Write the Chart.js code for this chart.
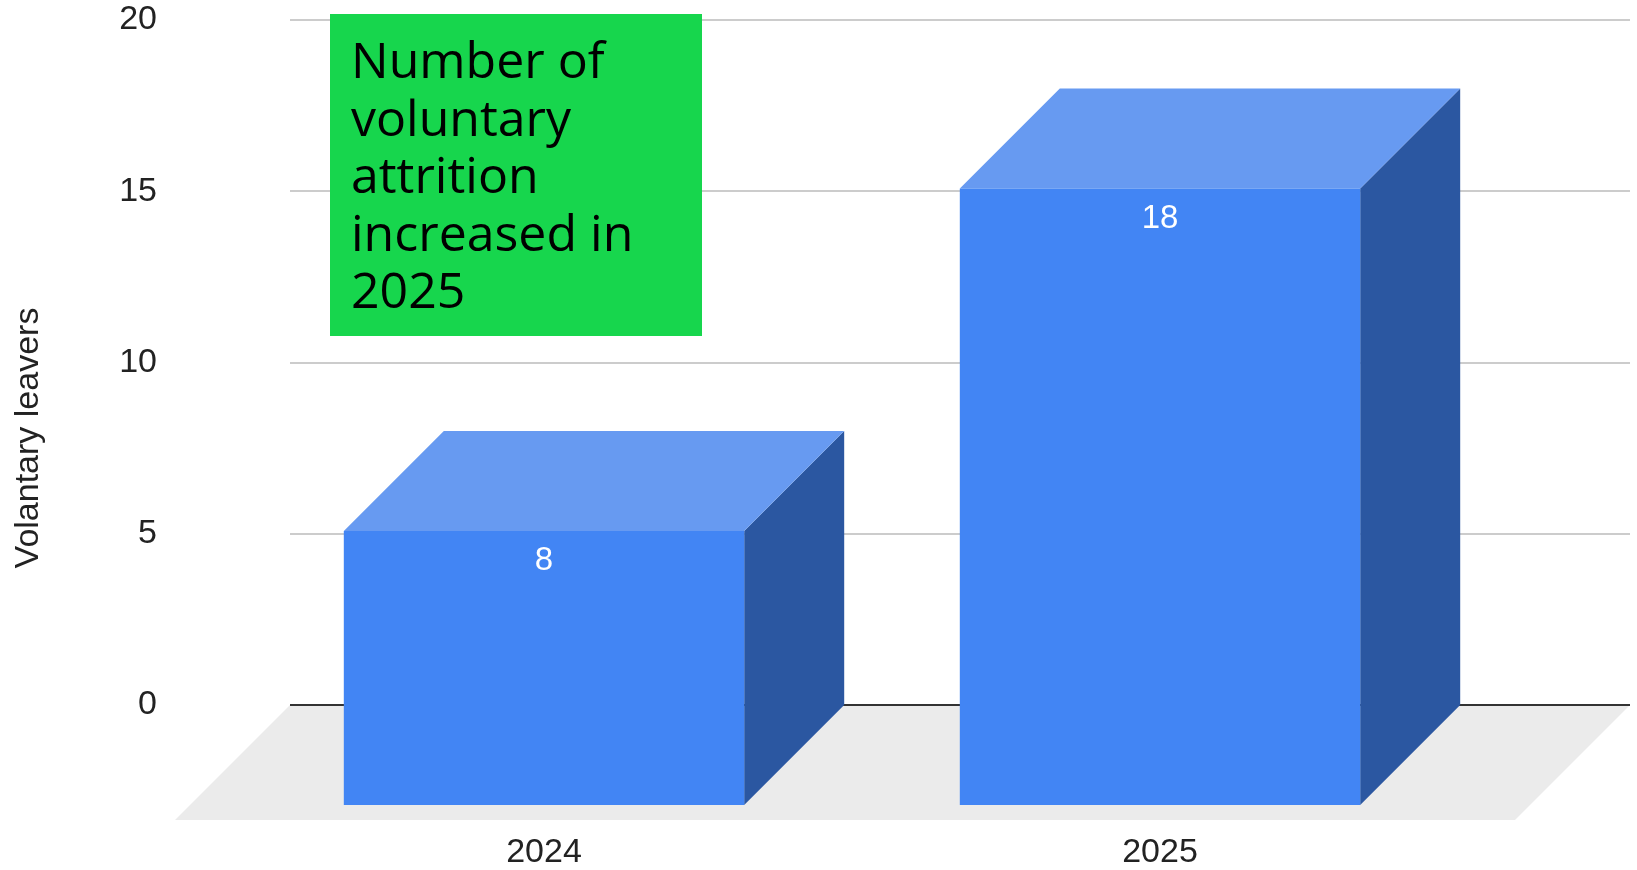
<!DOCTYPE html>
<html><head><meta charset="utf-8">
<script src="https://cdn.jsdelivr.net/npm/chart.js@4.4.1/dist/chart.umd.min.js"></script>
<style>html,body{margin:0;padding:0;background:#fff;overflow:hidden}</style>
</head><body>
<canvas id="c" width="1637" height="870"></canvas>
<script>
const categories = ['2024', '2025'];
const voluntaryLeavers = [8, 18];
const yTickValues = [0, 5, 10, 15, 20];
const yAxisTitle = 'Volantary leavers';
const noteLines = ['Number of', 'voluntary', 'attrition', 'increased in', '2025'];

const DEPTH = 100;
const FLOOR_DEPTH = 115;
const PLANE_LEFT = 290, PLANE_RIGHT = 1630;
const FONT = '"Liberation Sans", Arial, sans-serif';

const threeD = {
  id: 'threeD',
  beforeDatasetsDraw(chart) {
    const ctx = chart.ctx, y = chart.scales.y;
    const y0 = y.getPixelForValue(0);
    ctx.save();
    ctx.strokeStyle = '#cccccc'; ctx.lineWidth = 2;
    y.ticks.forEach(t => {
      if (t.value === 0) return;
      const p = Math.round(y.getPixelForValue(t.value));
      ctx.beginPath(); ctx.moveTo(PLANE_LEFT, p); ctx.lineTo(PLANE_RIGHT, p); ctx.stroke();
    });
    ctx.fillStyle = '#ebebeb';
    ctx.beginPath();
    ctx.moveTo(PLANE_LEFT, y0); ctx.lineTo(PLANE_RIGHT, y0);
    ctx.lineTo(PLANE_RIGHT - FLOOR_DEPTH, y0 + FLOOR_DEPTH);
    ctx.lineTo(PLANE_LEFT - FLOOR_DEPTH, y0 + FLOOR_DEPTH);
    ctx.closePath(); ctx.fill();
    ctx.strokeStyle = '#333333'; ctx.lineWidth = 2;
    ctx.beginPath(); ctx.moveTo(PLANE_LEFT, Math.round(y0)); ctx.lineTo(PLANE_RIGHT, Math.round(y0)); ctx.stroke();
    ctx.restore();
  },
  afterDatasetsDraw(chart) {
    const ctx = chart.ctx;
    const meta = chart.getDatasetMeta(0);
    ctx.save();
    meta.data.forEach((el, i) => {
      const p = el.getProps(['x', 'y', 'base', 'width'], true);
      const x0 = p.x - p.width / 2, x1 = p.x + p.width / 2, yt = p.y, yb = p.base;
      ctx.fillStyle = '#2b57a1';
      ctx.beginPath();
      ctx.moveTo(x1 - DEPTH, yt + DEPTH); ctx.lineTo(x1, yt); ctx.lineTo(x1, yb); ctx.lineTo(x1 - DEPTH, yb + DEPTH);
      ctx.closePath(); ctx.fill();
      ctx.fillStyle = '#679af1';
      ctx.beginPath();
      ctx.moveTo(x0 - DEPTH, yt + DEPTH); ctx.lineTo(x0, yt); ctx.lineTo(x1, yt); ctx.lineTo(x1 - DEPTH, yt + DEPTH);
      ctx.closePath(); ctx.fill();
      ctx.fillStyle = '#4285f4';
      ctx.fillRect(x0 - DEPTH, yt + DEPTH, p.width, yb - yt);
      ctx.fillStyle = '#ffffff';
      ctx.font = '33px ' + FONT;
      ctx.textAlign = 'center'; ctx.textBaseline = 'middle';
      ctx.fillText(String(voluntaryLeavers[i]), p.x - DEPTH, yt + DEPTH + 30);
    });
    ctx.restore();
  },
  afterDraw(chart) {
    const ctx = chart.ctx;
    ctx.save();
    ctx.translate(29, 438);
    ctx.rotate(-Math.PI / 2);
    ctx.fillStyle = '#222222';
    ctx.font = '34px ' + FONT;
    ctx.textAlign = 'center'; ctx.textBaseline = 'middle';
    ctx.fillText(yAxisTitle, 0, 0);
    ctx.restore();
    ctx.save();
    ctx.fillStyle = '#17d64d';
    ctx.fillRect(330, 14, 372, 322);
    ctx.fillStyle = '#000000';
    ctx.font = '50px "Open Sans", sans-serif';
    ctx.textAlign = 'left'; ctx.textBaseline = 'alphabetic';
    noteLines.forEach((t, i) => ctx.fillText(t, 351, 78 + i * 57.5));
    ctx.restore();
  }
};

new Chart(document.getElementById('c'), {
  type: 'bar',
  data: {
    labels: categories,
    datasets: [{
      label: 'Voluntary leavers',
      data: voluntaryLeavers,
      backgroundColor: 'rgba(0,0,0,0)',
      borderWidth: 0,
      barPercentage: 0.65,
      categoryPercentage: 1
    }]
  },
  options: {
    responsive: false,
    animation: false,
    devicePixelRatio: 1,
    layout: { padding: { top: 0, left: 0, right: 69, bottom: 0 } },
    plugins: { legend: { display: false }, tooltip: { enabled: false } },
    scales: {
      x: {
        type: 'category',
        offset: true,
        grid: { display: false, drawTicks: false, tickLength: 0 },
        border: { display: false },
        ticks: { font: { size: 34, family: FONT }, color: '#222222', labelOffset: -DEPTH, padding: 127, maxRotation: 0 },
        afterFit(s) { s.height = 165; s.paddingLeft = 0; s.paddingRight = 0; }
      },
      y: {
        min: 0, max: 20,
        grid: { display: false, drawTicks: false, tickLength: 0 },
        border: { display: false },
        ticks: { font: { size: 34, family: FONT }, color: '#222222', padding: 179, stepSize: 5 },
        afterBuildTicks(s) { s.ticks = yTickValues.map(v => ({ value: v })); },
        afterFit(s) { s.width = 336; s.paddingTop = 20; s.paddingBottom = 0; }
      }
    }
  },
  plugins: [threeD]
});
</script>
</body></html>
